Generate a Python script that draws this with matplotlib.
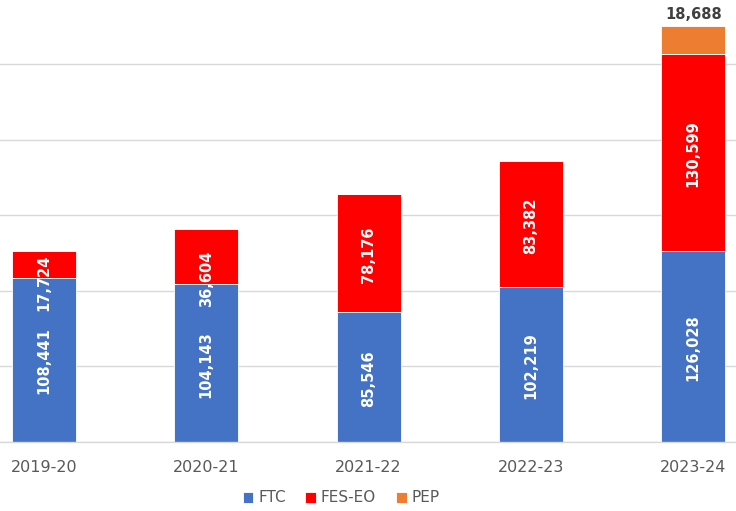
import matplotlib
matplotlib.use("Agg")
import matplotlib.pyplot as plt
import numpy as np

categories = ["2019-20", "2020-21", "2021-22", "2022-23", "2023-24"]
ftc = [108441, 104143, 85546, 102219, 126028]
fes_eo = [17724, 36604, 78176, 83382, 130599]
pep = [0, 0, 0, 0, 18688]

c_ftc = "#4472C4"
c_fes = "#FF0000"
c_pep = "#ED7D31"

fig = plt.figure(figsize=(7.36, 5.11), dpi=100)
ax = fig.add_axes([0.0, (511 - 441.5) / 511, 1.0, 441.5 / 511])

step = 162.3
x = np.arange(len(categories))
w = 64 / step
ax.set_xlim(-44 / step, (736 - 44) / step)
ax.set_ylim(0, 441.5 / 75.5 * 50000)

ax.set_yticks(np.arange(0, 300000, 50000))
ax.yaxis.grid(True, color="#d9d9d9", linewidth=1.0)
ax.set_axisbelow(True)
for s in ax.spines.values():
    s.set_visible(False)
ax.spines["bottom"].set_visible(True)
ax.spines["bottom"].set_color("#d9d9d9")
ax.spines["bottom"].set_linewidth(1.0)
ax.spines["bottom"].set_zorder(5)
ax.tick_params(axis="y", left=False, labelleft=False)
ax.tick_params(axis="x", bottom=False, colors="#595959", labelsize=11.5, pad=10)
ax.set_xticks(x)
ax.set_xticklabels(categories)

ftc_a = np.array(ftc)
fes_a = np.array(fes_eo)
pep_a = np.array(pep)

b1 = ax.bar(x, ftc_a, w, color=c_ftc, edgecolor="white", linewidth=0.6, label="FTC")
b2 = ax.bar(x, fes_a, w, bottom=ftc_a, color=c_fes, edgecolor="white", linewidth=0.6, label="FES-EO")
b3 = ax.bar(x, pep_a, w, bottom=ftc_a + fes_a, color=c_pep, edgecolor="white", linewidth=0.6, label="PEP")

# label offsets (points) for small segments where labels overflow
fes_offsets = [-13, -16, -1, -1, -1]

for i in range(len(x)):
    ax.annotate(f"{ftc[i]:,}", (x[i], ftc[i] / 2), xytext=(0, -1), textcoords="offset points",
                ha="center", va="center", rotation=90, color="white",
                fontsize=10.5, fontweight="bold")
    ax.annotate(f"{fes_eo[i]:,}", (x[i], ftc[i] + fes_eo[i] / 2), xytext=(0, fes_offsets[i]),
                textcoords="offset points", ha="center", va="center", rotation=90,
                color="white", fontsize=10.5, fontweight="bold")
    if pep[i] > 0:
        ax.annotate(f"{pep[i]:,}", (x[i], ftc[i] + fes_eo[i] + pep[i]), xytext=(0, 3),
                    textcoords="offset points", ha="center", va="bottom",
                    color="#404040", fontsize=10.5, fontweight="bold")

leg = fig.legend(handles=[b1, b2, b3], labels=["FTC", "FES-EO", "PEP"],
                 loc="center", bbox_to_anchor=(341 / 736, 1 - 498 / 511), ncol=3,
                 frameon=False, fontsize=11, handlelength=0.7, handleheight=0.7,
                 handletextpad=0.3, columnspacing=1.3)
for t in leg.get_texts():
    t.set_color("#595959")

fig.savefig("out.png", dpi=100)
